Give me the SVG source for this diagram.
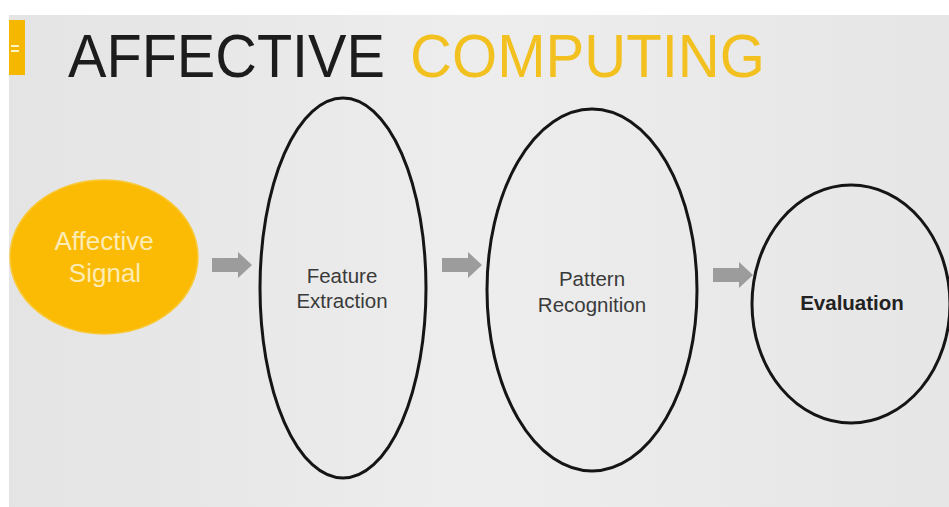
<svg xmlns="http://www.w3.org/2000/svg" width="949" height="507" viewBox="0 0 949 507">
  <defs>
    <linearGradient id="bg" x1="0" y1="0" x2="1" y2="0">
      <stop offset="0" stop-color="#e4e4e4"/>
      <stop offset="0.5" stop-color="#ededed"/>
      <stop offset="1" stop-color="#e6e6e6"/>
    </linearGradient>
    <path id="block-arrow" d="M0,-7 H26 V-13 L40,0 L26,13 V7 H0 Z"/>
  </defs>
  <style>
    .stage { fill: none; stroke: #151515; stroke-width: 3; }
    .label { font-family: "Liberation Sans", Arial, sans-serif; font-size: 20.5px; fill: #3a3a3a; text-anchor: middle; }
    .bold { font-weight: bold; fill: #222; }
    .light { font-size: 26px; fill: #fdebb4; }
    .arrow { fill: #9c9c9c; }
    .title { font-family: "Liberation Sans", Arial, sans-serif; font-size: 62px; }
  </style>

  <!-- page and slide background -->
  <rect x="0" y="0" width="949" height="507" fill="#ffffff"/>
  <rect x="9" y="15" width="940" height="492" fill="url(#bg)"/>

  <!-- title tab -->
  <rect x="9" y="20" width="16" height="55" fill="#f5b700"/>
  <rect x="11" y="45" width="8" height="2" fill="#fff4c8"/>
  <rect x="11" y="50" width="8" height="2" fill="#fff4c8"/>

  <!-- title -->
  <text class="title" x="68" y="77" fill="#1c1c1c" textLength="317" lengthAdjust="spacingAndGlyphs">AFFECTIVE</text>
  <text class="title" x="410" y="77" fill="#f3c11f" textLength="355" lengthAdjust="spacingAndGlyphs">COMPUTING</text>

  <!-- connectors -->
  <g id="connectors">
    <use href="#block-arrow" class="arrow" transform="translate(212,265)"/>
    <use href="#block-arrow" class="arrow" transform="translate(442,265)"/>
    <use href="#block-arrow" class="arrow" transform="translate(713,275)"/>
  </g>

  <g id="affective-signal">
    <ellipse cx="104" cy="257" rx="94" ry="77" fill="#fbbb05" stroke="#f8c93a" stroke-width="1.5"/>
    <text class="label light" x="104" y="250">Affective</text>
    <text class="label light" x="105" y="282">Signal</text>
  </g>

  <g id="feature-extraction">
    <ellipse class="stage" cx="343" cy="288" rx="83" ry="190"/>
    <text class="label" x="342" y="283">Feature</text>
    <text class="label" x="342" y="308">Extraction</text>
  </g>

  <g id="pattern-recognition">
    <ellipse class="stage" cx="592" cy="290" rx="105" ry="181"/>
    <text class="label" x="592" y="286">Pattern</text>
    <text class="label" x="592" y="312">Recognition</text>
  </g>

  <g id="evaluation">
    <ellipse class="stage" cx="851" cy="304" rx="99" ry="119"/>
    <text class="label bold" x="852" y="310">Evaluation</text>
  </g>
</svg>
